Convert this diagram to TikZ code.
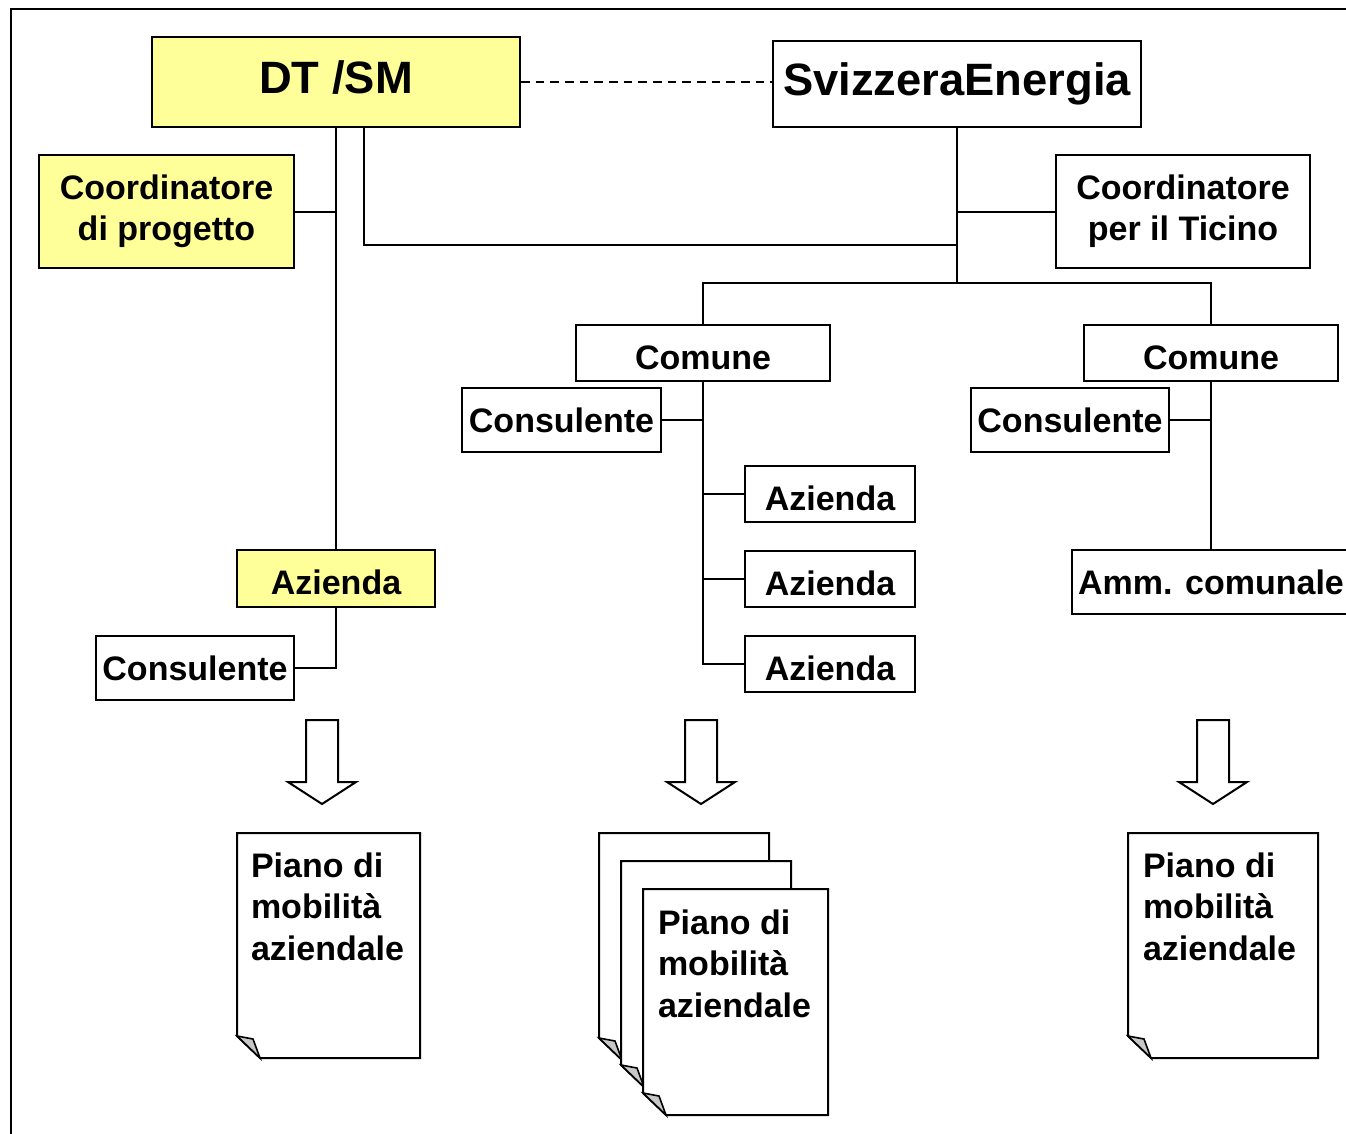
\documentclass[tikz,border=0pt]{standalone}
\usepackage{fontspec}
\setmainfont{Liberation Sans}
\definecolor{ylw}{HTML}{FFFF99}
\definecolor{fold}{HTML}{C8C8C8}
\begin{document}
\begin{tikzpicture}[x=0.75pt,y=-0.75pt,line width=1.5pt,
  lbl/.style={font=\fontsize{25.5pt}{31pt}\selectfont\bfseries},
  big/.style={font=\fontsize{34pt}{40pt}\selectfont\bfseries},
  box/.style={draw,fill=white,inner sep=0pt,align=center},
  ybox/.style={box,fill=ylw},
  low/.style={text height=24pt,text depth=0pt},
  high/.style={text height=24.5pt,text depth=7.5pt},
  conn/.style={line width=1.5pt},
  arrowshape/.style={draw,fill=white,line width=1.5pt},
  page/.style={draw,fill=white,line width=1.5pt},
  flap/.style={draw,fill=fold,line width=1.2pt}]
\useasboundingbox (0,0) rectangle (1346,1133);
\clip (0,0) rectangle (1346,1133);
% frame
\draw (11,1140) -- (11,9) -- (1350,9);
% boxes
\node[ybox,big,high,minimum width=276pt,minimum height=67.5pt] (dt) at (336,82) {DT /SM};
\node[box,big,minimum width=276pt,minimum height=64.5pt] (sv) at (957,84) {SvizzeraEnergia};
\node[ybox,lbl,minimum width=191.25pt,minimum height=84.75pt] (cp) at (166.5,211.5) {Coordinatore\\di progetto};
\node[box,lbl,minimum width=190.5pt,minimum height=84.75pt] (ct) at (1183,211.5) {Coordinatore\\per il Ticino};
\node[box,lbl,low,minimum width=190.5pt,minimum height=42pt] (com1) at (703,353) {Comune};
\node[box,lbl,low,minimum width=190.5pt,minimum height=42pt] (com2) at (1211,353) {Comune};
\node[box,lbl,minimum width=149.25pt,minimum height=48pt] (cons1) at (561.5,420) {Consulente};
\node[box,lbl,minimum width=148.5pt,minimum height=48pt] (cons2) at (1070,420) {Consulente};
\node[box,lbl,low,minimum width=127.5pt,minimum height=42pt] (az1) at (830,494) {Azienda};
\node[box,lbl,low,minimum width=127.5pt,minimum height=42pt] (az2) at (830,579) {Azienda};
\node[box,lbl,low,minimum width=127.5pt,minimum height=42pt] (az3) at (830,664) {Azienda};
\node[box,lbl,minimum width=208.5pt,minimum height=48pt] (amm) at (1211,582) {Amm. comunale};
\node[ybox,lbl,low,minimum width=148.5pt,minimum height=42.75pt] (azy) at (336,578.5) {Azienda};
\node[box,lbl,minimum width=148.5pt,minimum height=48pt] (cons3) at (195,668) {Consulente};
% helper coordinates
\coordinate (dtr) at (364,127);
\coordinate (j1) at (957,245);
\coordinate (hub) at (957,283);
% connectors
\draw[conn,dash pattern=on 6.5pt off 4.5pt] (dt.east) -- (dt.east -| sv.west);
\draw[conn] (dt.south) -- (azy.north);
\draw[conn] (cp.east) -- (cp.east -| dt.south);
\draw[conn] (dtr) |- (j1);
\draw[conn] (sv.south) -- (hub);
\draw[conn] (ct.west) -- (ct.west -| sv.south);
\draw[conn] (com1.north) |- (hub) -| (com2.north);
\draw[conn] (com1.south) |- (az3.west);
\draw[conn] (cons1.east) -- (cons1.east -| com1.south);
\draw[conn] (az1.west) -- (az1.west -| com1.south);
\draw[conn] (az2.west) -- (az2.west -| com1.south);
\draw[conn] (com2.south) -- (amm.north);
\draw[conn] (cons2.east) -- (cons2.east -| com2.south);
\draw[conn] (azy.south) |- (cons3.east);
% block arrows
\foreach \c in {322,701,1213}{
  \draw[arrowshape] (\c-16,720) -- (\c+16,720) -- (\c+16,782) -- (\c+34,782)
    -- (\c,804) -- (\c-34,782) -- (\c-16,782) -- cycle;
}
% documents
\newcommand\docpage[4]{%
  \draw[page] (#1,#2) -- (#3,#2) -- (#3,#4) -- (#1+23,#4) -- (#1,#4-22) -- cycle;
  \draw[flap] (#1,#4-22) -- (#1+16,#4-19) -- (#1+23,#4) -- cycle;}
\docpage{237}{833}{420}{1058}
\docpage{599}{833}{769}{1060}
\docpage{621}{861}{791}{1087}
\docpage{643}{889}{828}{1115}
\docpage{1128}{833}{1318}{1058}
\node[lbl,anchor=north west,align=left,inner sep=0pt] (p1) at (250,852) {Piano di\\mobilità\\aziendale};
\node[lbl,anchor=north west,align=left,inner sep=0pt] (p2) at (657,909) {Piano di\\mobilità\\aziendale};
\node[lbl,anchor=north west,align=left,inner sep=0pt] (p3) at (1142,852) {Piano di\\mobilità\\aziendale};
\end{tikzpicture}
\end{document}
